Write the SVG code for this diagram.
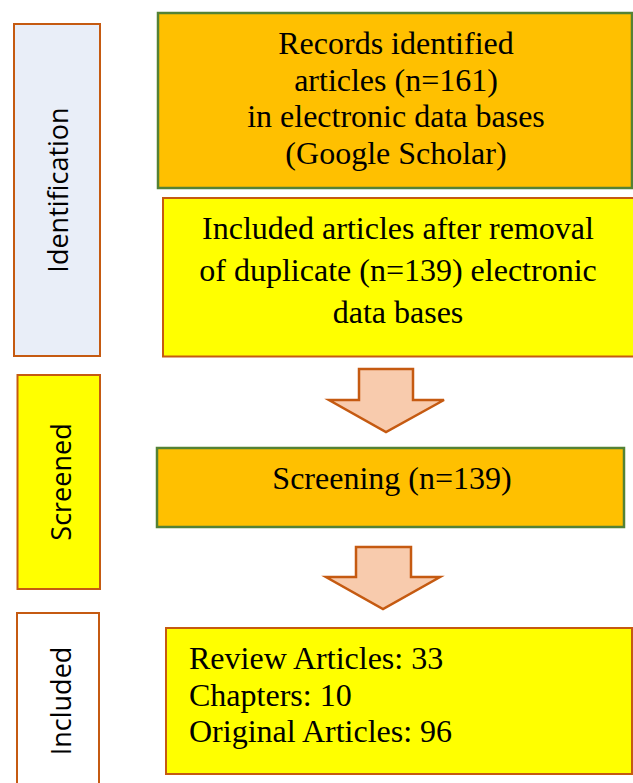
<svg xmlns="http://www.w3.org/2000/svg" width="633" height="783" viewBox="0 0 633 783">
  <style>
    .stage { stroke: #C55A11; stroke-width: 2; }
    .green { stroke: #548235; stroke-width: 2.5; }
    .orange { fill: #FFC000; }
    .yellow { fill: #FFFF00; }
    .side { font-family: "Open Sans", "Liberation Sans", sans-serif; font-size: 27px; fill: #000; text-anchor: middle; }
    .body { font-family: "Liberation Serif", "Times New Roman", serif; font-size: 32px; fill: #000; }
    .mid { text-anchor: middle; }
    .arrow { fill: #F8CBAD; stroke: #C55A11; stroke-width: 2.5; stroke-linejoin: miter; }
  </style>
  <rect width="633" height="783" fill="#FFFFFF"/>

  <!-- phase labels on the left -->
  <g id="phase-identification">
    <rect class="stage" x="14" y="24" width="86" height="332" fill="#E9EEF8"/>
    <text class="side" transform="translate(68 190) rotate(-90)">Identification</text>
  </g>
  <g id="phase-screened">
    <rect class="stage yellow" x="17.5" y="375" width="82.5" height="214"/>
    <text class="side" transform="translate(71 482) rotate(-90)">Screened</text>
  </g>
  <g id="phase-included">
    <rect class="stage" x="17" y="613" width="82" height="185" fill="#FFFFFF"/>
    <text class="side" transform="translate(71 701) rotate(-90)">Included</text>
  </g>

  <!-- process boxes -->
  <g id="records">
    <rect class="green orange" x="158" y="13" width="474" height="175"/>
    <text class="body mid" x="396" y="54">Records identified</text>
    <text class="body mid" x="396" y="90.5">articles (n=161)</text>
    <text class="body mid" x="396" y="127">in electronic data bases</text>
    <text class="body mid" x="396" y="163.5">(Google Scholar)</text>
  </g>
  <g id="deduplicated">
    <rect class="stage yellow" x="163" y="198" width="475" height="158.5"/>
    <text class="body mid" x="398" y="239">Included articles after removal</text>
    <text class="body mid" x="398" y="281">of duplicate (n=139) electronic</text>
    <text class="body mid" x="398" y="323">data bases</text>
  </g>
  <g id="screening">
    <rect class="green orange" x="157" y="448" width="467" height="79"/>
    <text class="body mid" x="392" y="488.5">Screening (n=139)</text>
  </g>
  <g id="included-totals">
    <rect class="stage yellow" x="166" y="628" width="466" height="146"/>
    <text class="body" x="189" y="669">Review Articles: 33</text>
    <text class="body" x="189" y="705.5">Chapters: 10</text>
    <text class="body" x="189" y="742">Original Articles: 96</text>
  </g>

  <!-- block arrows between stages -->
  <g id="connectors">
    <polygon class="arrow" points="359,369 413,369 413,400 444,400 386,432 329,400 359,400"/>
    <polygon class="arrow" points="356,547 411,547 411,577 440,577 383,609 326,577 356,577"/>
  </g>
</svg>
